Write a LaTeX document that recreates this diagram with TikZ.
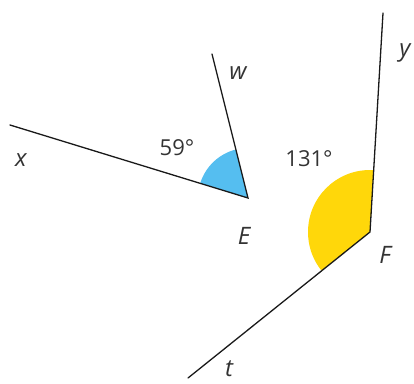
\documentclass[tikz,border=0pt]{standalone}
\usepackage{fontspec}
\setmainfont{Open Sans}
\begin{document}
\begin{tikzpicture}[x=1pt,y=-1pt,
  ray/.style={line width=1.3pt, black!90, line cap=round},
  lbl/.style={font=\fontsize{24}{24}\selectfont\itshape, text=black!80},
  ang/.style={font=\fontsize{22}{22}\selectfont, text=black!80}]
\useasboundingbox (0,0) rectangle (414,383);
\coordinate (E) at (248,198);
\coordinate (X) at (10,125);
\coordinate (W) at (212,54);
\coordinate (F) at (370,232);
\coordinate (Y) at (383,13);
\coordinate (T) at (188,378);
\begin{scope}
  \clip (E) -- (X) -- (W) -- cycle;
  \fill[fill={rgb,255:red,85;green,190;blue,240}] (E) circle[radius=50];
\end{scope}
\begin{scope}
  \clip (F) -- (T) -- (Y) -- cycle;
  \fill[fill={rgb,255:red,255;green,215;blue,10}] (F) circle[radius=62];
\end{scope}
\draw[ray] (X) -- (E) -- (W);
\draw[ray] (Y) -- (F) -- (T);
\node[lbl] (lw) at (238,73) {w};
\node[lbl] (lx) at (21,160) {x};
\node[ang] (a59) at (177,148) {59°};
\node[lbl] (le) at (244,236) {E};
\node[ang] (a131) at (309,159) {131°};
\node[lbl] (ly) at (405,53) {y};
\node[lbl] (lf) at (385,255) {F};
\node[lbl] (lt) at (229,369) {t};
\end{tikzpicture}
\end{document}
